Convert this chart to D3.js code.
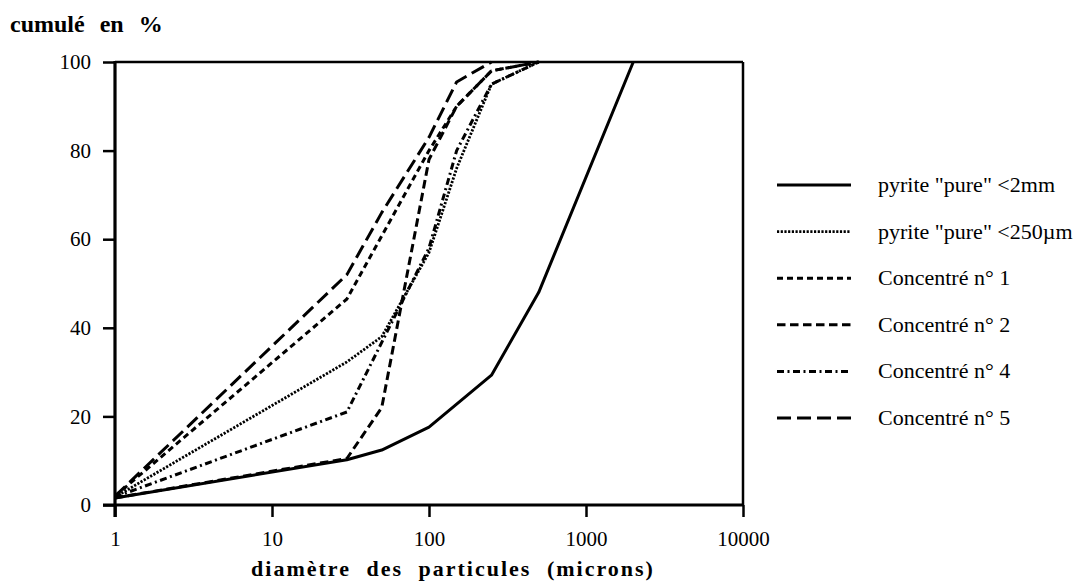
<!DOCTYPE html>
<html><head><meta charset="utf-8">
<script src="https://cdn.jsdelivr.net/npm/d3@7"></script>
<style>
html,body{margin:0;padding:0;background:#fff;}
svg{display:block;}
text{font-family:"Liberation Serif","Times New Roman",serif;fill:#000;}
</style></head>
<body>
<svg id="chart" width="1086" height="583"></svg>
<script>
// ---- data ----
const seriesNames = ['pyrite "pure" <2mm', 'pyrite "pure" <250µm', 'Concentré n° 1', 'Concentré n° 2', 'Concentré n° 4', 'Concentré n° 5'];
const pyrite2mm   = [[1,1.6],[30,10.2],[50,12.4],[100,17.6],[250,29.3],[500,48],[2000,100]];
const pyrite250   = [[1,1.8],[30,32.3],[50,38],[100,57],[150,76],[250,95],[500,100]];
const conc1       = [[1,2],[30,46.5],[100,80],[150,90],[250,98],[500,100]];
const conc2       = [[1,1.6],[30,10.5],[50,22],[100,78],[150,90],[250,98],[500,100]];
const conc4       = [[1,1.8],[30,21],[100,58],[150,80],[250,95],[500,100]];
const conc5       = [[1,2],[30,52],[50,66],[100,83],[150,95.5],[250,100]];
const xTickLabels = ["1","10","100","1000","10000"];
const yTickLabels = ["0","20","40","60","80","100"];

// ---- styles ----
const seriesData = [pyrite2mm, pyrite250, conc1, conc2, conc4, conc5];
const dashes = [null, "2.2,1.5", "6,4", "8.5,4.5", "7,3.5,2,3.5", "14,6"];
const widths = [3, 2.8, 3, 3, 3, 3];

const svg = d3.select("#chart");
const x = d3.scaleLog().domain([1,10000]).range([115,743]);
const y = d3.scaleLinear().domain([0,100]).range([505,62]);

// frame top and right
svg.append("line").attr("x1",x(1)).attr("x2",x(10000)).attr("y1",y(100)).attr("y2",y(100))
  .attr("stroke","#000").attr("stroke-width",2.5);
svg.append("line").attr("x1",x(10000)).attr("x2",x(10000)).attr("y1",y(100)).attr("y2",y(0))
  .attr("stroke","#000").attr("stroke-width",2.5);

// bottom axis
const majorX = xTickLabels.map(Number);
const minorX = [];
for (let d=1; d<10000; d*=10) for (let k=2;k<10;k++) minorX.push(d*k);
const gx = svg.append("g").attr("transform",`translate(0,${y(0)})`);
gx.call(d3.axisBottom(x).tickValues(minorX).tickSize(7).tickFormat(""))
  .call(g=>g.select(".domain").remove());
gx.call(d3.axisBottom(x).tickValues(majorX).tickSize(12).tickFormat((d,i)=>xTickLabels[i]).tickPadding(14))
  .call(g=>g.select(".domain").remove());
gx.selectAll("line").attr("stroke","#000").attr("stroke-width",2.5);
gx.selectAll("text").attr("font-size",21).attr("font-family","Liberation Serif").attr("fill","#000");
svg.append("line").attr("x1",x(1)-12).attr("x2",x(10000)+1).attr("y1",y(0)).attr("y2",y(0))
  .attr("stroke","#000").attr("stroke-width",3);

// left axis
const majorY = yTickLabels.map(Number);
const minorY = [10,30,50,70,90];
const gy = svg.append("g").attr("transform",`translate(${x(1)},0)`);
gy.call(d3.axisLeft(y).tickValues(minorY).tickSize(7).tickFormat(""))
  .call(g=>g.select(".domain").remove());
gy.call(d3.axisLeft(y).tickValues(majorY).tickSize(12).tickFormat((d,i)=>yTickLabels[i]).tickPadding(12))
  .call(g=>g.select(".domain").remove());
gy.selectAll("line").attr("stroke","#000").attr("stroke-width",2.5);
gy.selectAll("text").attr("font-size",21).attr("font-family","Liberation Serif").attr("fill","#000");
svg.append("line").attr("x1",x(1)).attr("x2",x(1)).attr("y1",y(100)-1).attr("y2",y(0)+12)
  .attr("stroke","#000").attr("stroke-width",3.2);

// series lines
const line = d3.line().x(d=>x(d[0])).y(d=>y(d[1]));
seriesData.forEach((s,i)=>{
  svg.append("path").datum(s).attr("d",line).attr("fill","none")
    .attr("stroke","#000").attr("stroke-width",widths[i])
    .attr("stroke-dasharray",dashes[i]).attr("stroke-linejoin","round");
});

// legend
const legY = d3.scalePoint().domain(seriesNames).range([185,418]);
seriesNames.forEach((n,i)=>{
  svg.append("line").attr("x1",777).attr("x2",851).attr("y1",legY(n)).attr("y2",legY(n))
    .attr("stroke","#000").attr("stroke-width",widths[i]).attr("stroke-dasharray",dashes[i]);
  svg.append("text").attr("x",878).attr("y",legY(n)).attr("dy","0.32em")
    .attr("font-size",22).text(n);
});

// titles
svg.append("text").attr("x",10).attr("y",32).attr("font-size",24).attr("font-weight","bold")
  .attr("word-spacing","9px").text("cumulé en %");
svg.append("text").attr("x",453).attr("y",576).attr("text-anchor","middle").attr("font-size",22)
  .attr("font-weight","bold").attr("letter-spacing","2px").attr("word-spacing","8px")
  .text("diamètre des particules (microns)");
</script>
</body></html>
